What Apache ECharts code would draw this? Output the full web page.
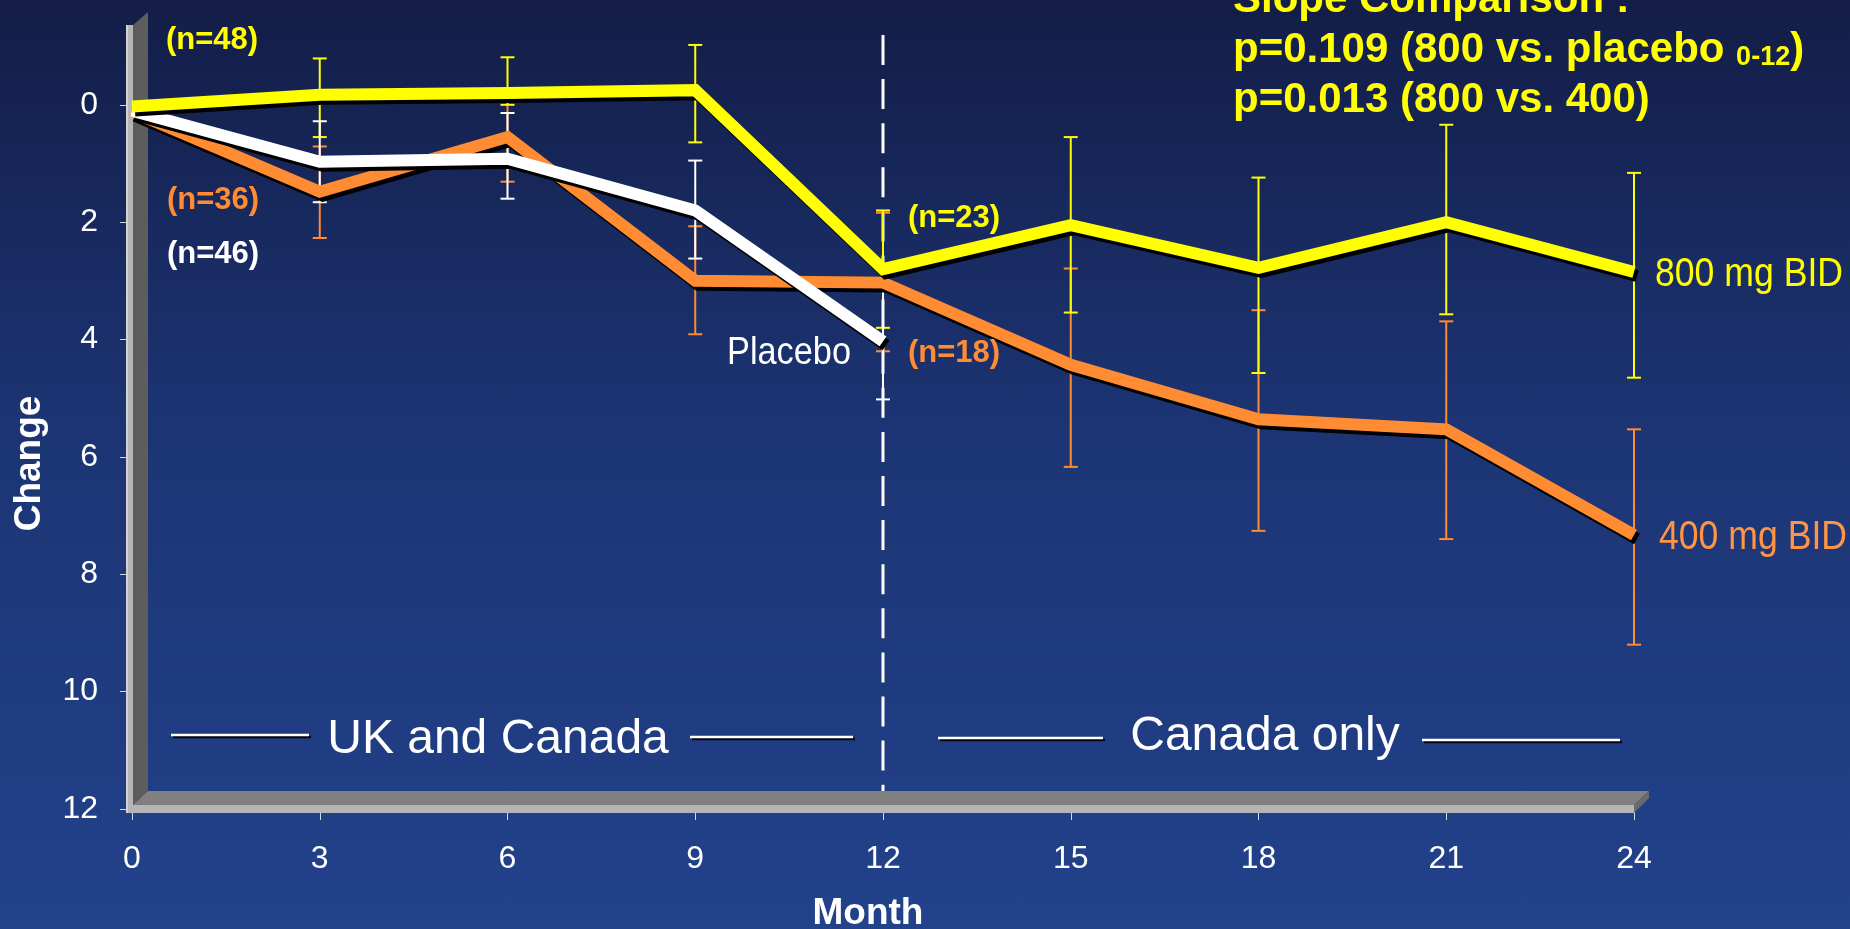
<!DOCTYPE html>
<html>
<head>
<meta charset="utf-8">
<title>Change by month</title>
<script src="https://cdn.jsdelivr.net/npm/echarts@6.0.0/dist/echarts.min.js"></script>
<style>
  html, body { margin: 0; padding: 0; overflow: hidden; }
  body {
    width: 1850px; height: 929px;
    background: linear-gradient(to bottom, #131d47 0%, #1c3473 45%, #22428c 100%);
  }
  #chart { width: 1850px; height: 929px; }
</style>
</head>
<body>
<div id="chart"></div>
<script>
// ---- data -------------------------------------------------------------
const months = [0, 3, 6, 9, 12, 15, 18, 21, 24];
const changeTicks = [0, 2, 4, 6, 8, 10, 12];

// 800 mg BID: mean change and error-bar bounds
const bid800 = [0.03, -0.17, -0.2, -0.25, 2.8, 2.05, 2.78, 2.0, 2.85];
const bid800Low = [null, -0.79, -0.81, -1.02, 1.8, 0.55, 1.24, 0.34, 1.16];
const bid800High = [null, 0.55, 0.0, 0.64, 3.8, 3.54, 4.57, 3.57, 4.65];

// 400 mg BID
const bid400 = [0.12, 1.48, 0.55, 3.0, 3.03, 4.43, 5.36, 5.53, 7.33];
const bid400Low = [null, 0.71, -0.2, 2.07, 1.84, 2.79, 3.5, 3.69, 5.53];
const bid400High = [null, 2.27, 1.31, 3.91, 4.2, 6.17, 7.26, 7.4, 9.2];

// Placebo (months 0-12 only)
const placebo = [0.1, 0.97, 0.92, 1.8, 4.03];
const placeboLow = [null, 0.28, 0.14, 0.95, 3.03];
const placeboHigh = [null, 1.66, 1.6, 2.62, 5.02];

// vertical divider between the two study phases
const dividerMonth = 12;
const dividerSpan = [-1.19, 12];

// ---- styling ----------------------------------------------------------
const FONT = '"Liberation Sans", Arial, Helvetica, sans-serif';
const YELLOW = '#ffff00';
const ORANGE = '#ff8b33';
const ORANGE_TEXT = '#ff9445';
const WHITE = '#ffffff';
const Y_TOP = -1.36;   // value at the top edge of the back wall

const chart = echarts.init(document.getElementById('chart'), null, { renderer: 'canvas' });

function errorData(low, high) {
  const out = [];
  low.forEach((lo, i) => { if (lo != null) out.push([months[i], lo, high[i]]); });
  return out;
}

function errorSeries(name, color, low, high) {
  return {
    type: 'custom', name, z: 2, silent: true, clip: false,
    data: errorData(low, high),
    encode: { x: 0, y: [1, 2] },
    renderItem(params, api) {
      const a = api.coord([api.value(0), api.value(1)]);
      const b = api.coord([api.value(0), api.value(2)]);
      const w = 7;
      const st = { stroke: color, lineWidth: 2 };
      return {
        type: 'group',
        children: [
          { type: 'line', shape: { x1: a[0], y1: a[1], x2: b[0], y2: b[1] }, style: st },
          { type: 'line', shape: { x1: a[0] - w, y1: a[1], x2: a[0] + w, y2: a[1] }, style: st },
          { type: 'line', shape: { x1: b[0] - w, y1: b[1], x2: b[0] + w, y2: b[1] }, style: st }
        ]
      };
    }
  };
}

function meanSeries(name, color, values, z) {
  return {
    type: 'line', name, z, silent: true, clip: false,
    data: values.map((v, i) => [months[i], v]),
    symbol: 'none', showSymbol: false,
    lineStyle: {
      color, width: 12, join: 'miter', cap: 'butt',
      shadowColor: '#000000', shadowOffsetX: 3, shadowOffsetY: 4, shadowBlur: 0
    }
  };
}

const option = {
  animation: false,
  backgroundColor: 'transparent',
  grid: {
    left: 132, right: 216, top: 25, bottom: 120,
    containLabel: false, outerBoundsMode: 'none'
  },
  xAxis: {
    type: 'value', min: 0, max: 24, interval: 3,
    axisLine: { show: false, onZero: false },
    splitLine: { show: false },
    axisTick: { show: true, length: 11, lineStyle: { color: 'rgba(255,255,255,0.8)', width: 1 } },
    axisLabel: { color: WHITE, fontSize: 32, fontFamily: FONT, margin: 34 },
    name: 'Month', nameLocation: 'middle', nameGap: 86,
    nameTextStyle: {
      color: WHITE, fontSize: 37, fontWeight: 'bold', fontFamily: FONT,
      padding: [0, 30, 0, 0],
      textShadowColor: '#000', textShadowOffsetX: 2, textShadowOffsetY: 2, textShadowBlur: 0
    }
  },
  yAxis: {
    type: 'value', inverse: true, min: Y_TOP, max: 12,
    axisLine: { show: false, onZero: false },
    splitLine: { show: false },
    axisTick: { show: true, length: 12, customValues: changeTicks, lineStyle: { color: 'rgba(255,255,255,0.8)', width: 1 } },
    axisLabel: { customValues: changeTicks, color: WHITE, fontSize: 32, fontFamily: FONT, margin: 34 },
    name: 'Change', nameLocation: 'middle', nameGap: 84,
    nameTextStyle: {
      color: WHITE, fontSize: 37, fontWeight: 'bold', fontFamily: FONT,
      padding: [0, 93, 0, 0],
      textShadowColor: '#000', textShadowOffsetX: 2, textShadowOffsetY: 2, textShadowBlur: 0
    }
  },
  series: [
    {
      type: 'line', name: 'divider', z: 0, silent: true, clip: false, symbol: 'none',
      data: dividerSpan.map(v => [dividerMonth, v]),
      lineStyle: { color: WHITE, width: 3, type: [30, 14.1] }
    },
    errorSeries('400 mg BID error', ORANGE, bid400Low, bid400High),
    errorSeries('800 mg BID error', YELLOW, bid800Low, bid800High),
    errorSeries('Placebo error', WHITE, placeboLow, placeboHigh),
    meanSeries('400 mg BID', ORANGE, bid400, 3),
    meanSeries('Placebo', WHITE, placebo, 4),
    meanSeries('800 mg BID', YELLOW, bid800, 5)
  ]
};

chart.setOption(option);

// ---- decorations: 3-D wall/floor, annotations -------------------------
const px = (m, v) => chart.convertToPixel({ gridIndex: 0 }, [m, v]);

function text(str, x, y, o) {
  return {
    type: 'text', x, y, z: 20, silent: true,
    scaleX: o.scaleX || 1,
    style: {
      text: str, x: 0, y: 0, fill: o.color, font: o.font,
      align: o.align || 'left', verticalAlign: 'middle',
      rich: o.rich,
      textShadowColor: 'rgba(0,0,0,0.95)',
      textShadowOffsetX: o.shadow == null ? 2 : o.shadow,
      textShadowOffsetY: o.shadow == null ? 2 : o.shadow,
      textShadowBlur: 0
    }
  };
}

function rule(x1, x2, y) {
  return {
    type: 'line', z: 20, silent: true,
    shape: { x1, y1: y, x2, y2: y },
    style: { stroke: WHITE, lineWidth: 2.5, shadowColor: 'rgba(0,0,0,0.9)', shadowOffsetX: 2, shadowOffsetY: 2 }
  };
}

function decorations() {
  const [L, T] = px(0, Y_TOP);
  const [R, B] = px(24, 12);
  const fy = B - 4;        // front edge of the floor's top face
  const dx = 15, dy = 14;  // depth of the 3-D frame
  const g = [];

  // left wall (side face)
  g.push({ type: 'polygon', z: 1, silent: true,
    shape: { points: [[L + 1, T], [L + 1 + dx, T - 13], [L + 1 + dx, fy - dy], [L + 1, fy]] },
    style: { fill: '#5d5d5d' } });
  // floor (top face)
  g.push({ type: 'polygon', z: 1, silent: true,
    shape: { points: [[L + 1, fy], [L + 1 + dx, fy - dy], [R + dx, fy - dy], [R, fy]] },
    style: { fill: '#808080' } });
  // floor (right end)
  g.push({ type: 'polygon', z: 1, silent: true,
    shape: { points: [[R, fy], [R + dx, fy - dy], [R + dx, fy - dy + 7], [R, fy + 8]] },
    style: { fill: '#6a6a6a' } });
  // floor (front face)
  g.push({ type: 'rect', z: 1, silent: true,
    shape: { x: L - 6, y: fy, width: R - L + 6, height: 8 },
    style: { fill: '#b5b5b5' } });
  // wall (front face)
  g.push({ type: 'rect', z: 1, silent: true,
    shape: { x: L - 6, y: T, width: 7, height: fy - T + 8 },
    style: { fill: '#b5b5b5' } });
  g.push({ type: 'rect', z: 1, silent: true,
    shape: { x: L - 6, y: T, width: 2, height: fy - T + 8 },
    style: { fill: '#d2d2d2' } });

  const bold31 = 'bold 31px ' + FONT;

  // sample sizes
  let p = px(0, bid800[0]);
  g.push(text('(n=48)', p[0] + 34, p[1] - 66, { color: YELLOW, font: bold31 }));
  p = px(0, bid400[0]);
  g.push(text('(n=36)', p[0] + 35, p[1] + 89, { color: ORANGE, font: bold31 }));
  p = px(0, placebo[0]);
  g.push(text('(n=46)', p[0] + 35, p[1] + 144, { color: WHITE, font: bold31 }));
  p = px(12, bid800[4]);
  g.push(text('(n=23)', p[0] + 25, p[1] - 51, { color: YELLOW, font: bold31 }));
  p = px(12, bid400[4]);
  g.push(text('(n=18)', p[0] + 25, p[1] + 71, { color: ORANGE, font: bold31 }));

  // series names
  p = px(12, placebo[4]);
  g.push(text('Placebo', p[0] - 156, p[1] + 12, { color: WHITE, font: '39px ' + FONT, scaleX: 0.88 }));
  p = px(24, bid800[8]);
  g.push(text('800 mg BID', p[0] + 21, p[1] + 2.5, { color: YELLOW, font: '40px ' + FONT, scaleX: 0.89 }));
  p = px(24, bid400[8]);
  g.push(text('400 mg BID', p[0] + 25, p[1] + 3.5, { color: ORANGE_TEXT, font: '40px ' + FONT, scaleX: 0.89 }));

  // study phase captions
  const regular48 = '48px ' + FONT;
  g.push(rule(171, 309, 735));
  g.push(text('UK and Canada', 498, 740, { color: WHITE, font: regular48, align: 'center' }));
  g.push(rule(690, 853, 737));
  g.push(rule(938, 1103, 738));
  g.push(text('Canada only', 1265, 737, { color: WHITE, font: regular48, align: 'center' }));
  g.push(rule(1422, 1620, 740));

  // slope comparison box
  const bold42 = 'bold 42px ' + FONT;
  g.push(text('Slope Comparison :', 1233, 0.5, { color: YELLOW, font: bold42, shadow: 3 }));
  g.push(text('p=0.109 (800 vs. placebo {sub|0-12})', 1233, 50.5, {
    color: YELLOW, font: bold42, shadow: 3,
    rich: { sub: { fontSize: 27, fontWeight: 'bold', fontFamily: FONT, fill: YELLOW,
      verticalAlign: 'bottom', lineHeight: 22,
      textShadowColor: 'rgba(0,0,0,0.95)', textShadowOffsetX: 2, textShadowOffsetY: 2 } }
  }));
  g.push(text('p=0.013 (800 vs. 400)', 1233, 100.5, { color: YELLOW, font: bold42, shadow: 3 }));

  return g;
}

chart.setOption({ graphic: decorations() });
</script>
</body>
</html>
